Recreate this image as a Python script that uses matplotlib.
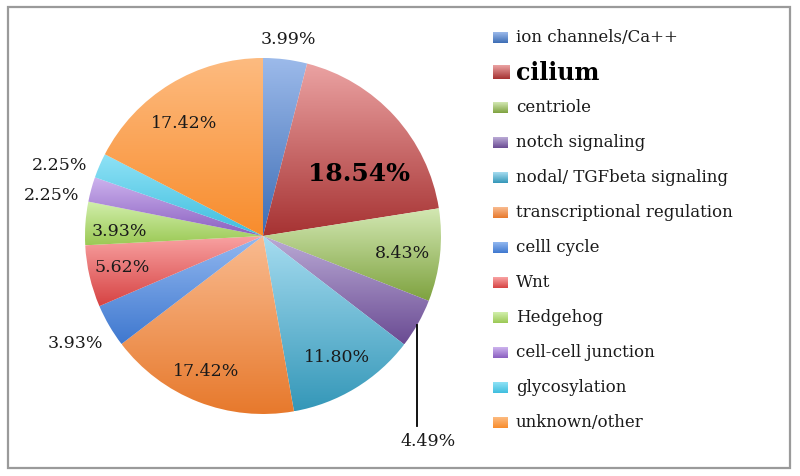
import numpy as np
import matplotlib
matplotlib.use("Agg")
import matplotlib.pyplot as plt
from matplotlib.patches import Rectangle
from matplotlib.colors import to_rgb

categories = ["ion channels/Ca++", "cilium", "centriole", "notch signaling",
              "nodal/ TGFbeta signaling", "transcriptional regulation",
              "celll cycle", "Wnt", "Hedgehog", "cell-cell junction",
              "glycosylation", "unknown/other"]
values = [3.99, 18.54, 8.43, 4.49, 11.80, 17.42, 3.93, 5.62, 3.93, 2.25, 2.25, 17.42]
value_labels = ["3.99%", "18.54%", "8.43%", "4.49%", "11.80%", "17.42%",
                "3.93%", "5.62%", "3.93%", "2.25%", "2.25%", "17.42%"]

top_colors = ["#9CBAEA", "#EBA3A3", "#D3E8B3", "#BBABD6", "#A6DCF0", "#F9BB90",
              "#92B8F0", "#F9A3A3", "#D2EFAC", "#CDB3EE", "#8FE2F6", "#FDBB80"]
bot_colors = ["#3D6DB5", "#A63232", "#7EA23F", "#6A4B93", "#3497B8", "#E7792C",
              "#3F78CF", "#D64343", "#9BC955", "#8A5FC0", "#3FBEDE", "#F88C2C"]

FONT = ["DejaVu Serif"]
W, H = 800, 476
fig = plt.figure(figsize=(W / 100, H / 100), dpi=100)
fig.patch.set_facecolor("white")

cx, cy, R = 263, 236, 178
ax = fig.add_axes([(cx - R) / W, (H - cy - R) / H, 2 * R / W, 2 * R / H])
wedges, _ = ax.pie(values, startangle=90, counterclock=False, radius=1,
                   colors=bot_colors, wedgeprops=dict(linewidth=0))
for w, tc, bc in zip(wedges, top_colors, bot_colors):
    ext = w.get_path().get_extents()
    t = np.linspace(0, 1, 256)[:, None]
    c0 = np.array(to_rgb(bc)); c1 = np.array(to_rgb(tc))
    grad = (c0[None, :] * (1 - t) + c1[None, :] * t)[:, None, :]
    im = ax.imshow(grad, extent=[ext.x0, ext.x1, ext.y0, ext.y1], origin="lower",
                   aspect="auto", interpolation="bilinear", zorder=2)
    im.set_clip_path(w)
    w.set_facecolor("none")
ax.set_xlim(-1, 1)
ax.set_ylim(-1, 1)
ax.set_aspect("equal")
ax.axis("off")

# overlay in pixel coordinates
ov = fig.add_axes([0, 0, 1, 1])
ov.set_xlim(0, W)
ov.set_ylim(H, 0)
ov.axis("off")
ov.add_patch(Rectangle((7.5, 7), 782.5, 460.5, fill=False, ec="#9a9a9a", lw=1.6))

# pie labels (pixel positions)
label_pos = [(288, 40), (359, 174), (402, 253), (428, 441), (337, 358), (206, 372),
             (75, 344), (122, 267), (119, 232), (52, 195), (60, 165), (184, 123)]
for i, (txt, (px, py)) in enumerate(zip(value_labels, label_pos)):
    if i == 1:
        ov.text(px, py, txt, ha="center", va="center", fontsize=18,
                fontweight="bold", family=FONT, color="black")
    else:
        ov.text(px, py, txt, ha="center", va="center", fontsize=12.5,
                family=FONT, color="#1a1a1a")
ov.plot([417, 417], [325, 426], color="black", lw=1.3)

# legend
y0, dy = 37.5, 35.0
for i, (cat, tc, bc) in enumerate(zip(categories, top_colors, bot_colors)):
    yy = y0 + dy * i
    big = (i == 1)
    mw, mh = (17, 14) if big else (15, 11)
    t = np.linspace(0, 1, 64)[:, None]
    c0 = np.array(to_rgb(tc)); c1 = np.array(to_rgb(bc))
    grad = (c0[None, :] * (1 - t) + c1[None, :] * t)[:, None, :]
    ov.imshow(grad, extent=[493, 493 + mw, yy + mh / 2, yy - mh / 2],
              aspect="auto", interpolation="bilinear")
    if big:
        ov.text(516, yy, cat, ha="left", va="center", fontsize=17,
                fontweight="bold", family=FONT, color="black")
    else:
        ov.text(516, yy, cat, ha="left", va="center", fontsize=12,
                family=FONT, color="#1a1a1a")
ov.set_xlim(0, W)
ov.set_ylim(H, 0)

fig.savefig("out.png", dpi=100, facecolor="white")
